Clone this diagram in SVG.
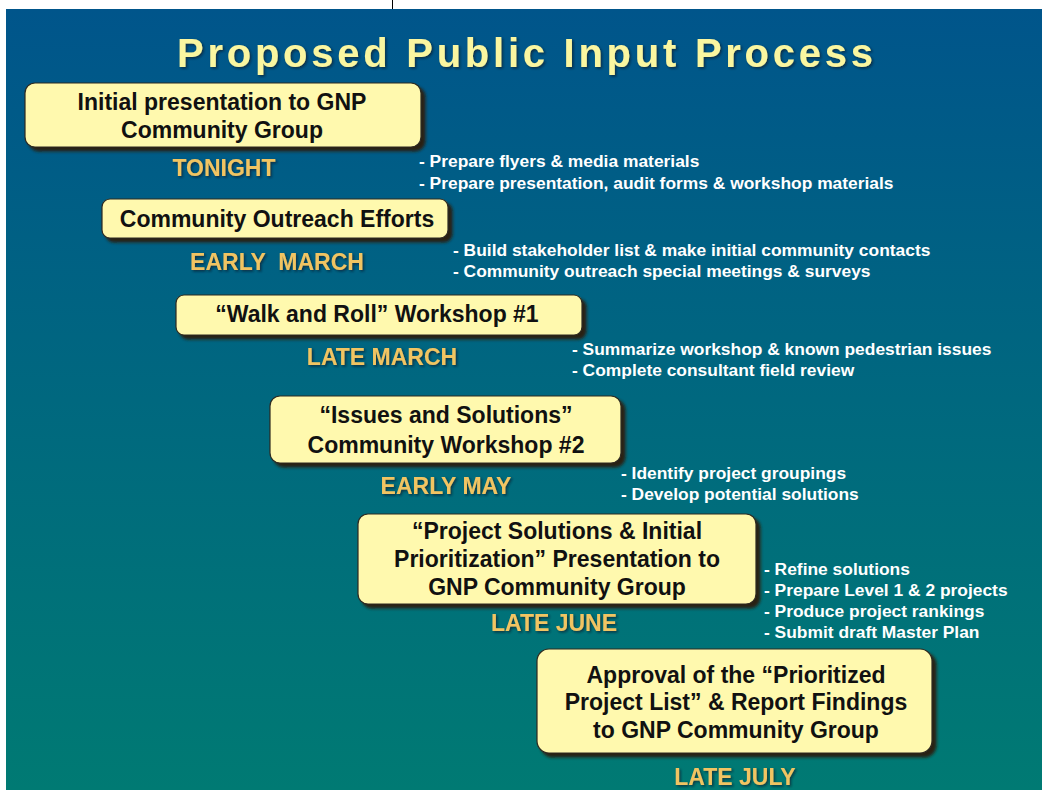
<svg xmlns="http://www.w3.org/2000/svg" width="1042" height="790" viewBox="0 0 1042 790">
<defs>
<linearGradient id="bg" x1="0" y1="0" x2="0" y2="1">
<stop offset="0" stop-color="#00558b"/>
<stop offset="0.5" stop-color="#00687f"/>
<stop offset="1" stop-color="#007a73"/>
</linearGradient>
<filter id="sh" x="-5%" y="-10%" width="115%" height="130%">
<feDropShadow dx="4" dy="4" stdDeviation="1.5" flood-color="#2a1a08" flood-opacity="0.95"/>
</filter>
<filter id="tsh" x="-5%" y="-20%" width="110%" height="140%">
<feDropShadow dx="1.5" dy="1.5" stdDeviation="0.8" flood-color="#0a1a2a" flood-opacity="0.7"/>
</filter>
</defs>
<style>
.box{fill:#fff9ae;stroke:#2e2a20;stroke-width:1.2;filter:url(#sh)}
.bt{font-family:"Liberation Sans",Arial,sans-serif;font-weight:bold;font-size:23px;fill:#111;text-anchor:middle}
.when{font-family:"Liberation Sans",Arial,sans-serif;font-weight:bold;font-size:23px;fill:#f1c462;text-anchor:middle;filter:url(#tsh)}
.bul{font-family:"Liberation Sans",Arial,sans-serif;font-weight:bold;font-size:17.4px;fill:#ffffff}
.title{font-family:"Liberation Sans",Arial,sans-serif;font-weight:bold;font-size:40px;fill:#faf6a0;filter:url(#tsh)}
</style>
<rect x="0" y="0" width="1042" height="790" fill="#ffffff"/>
<line x1="392.5" y1="0" x2="392.5" y2="9" stroke="#000" stroke-width="1"/>
<rect x="6" y="9" width="1036" height="781" fill="url(#bg)"/>
<text class="title" x="177" y="67" textLength="696" lengthAdjust="spacing">Proposed Public Input Process</text>
<g id="connectors"/>
<g id="n1">
<rect class="box" x="25" y="83" width="396" height="64" rx="10"/>
<text class="bt" x="222" y="110">Initial presentation to GNP</text>
<text class="bt" x="222" y="138">Community Group</text>
<text class="when" x="224" y="176">TONIGHT</text>
<text class="bul" x="419" y="167">- Prepare flyers &amp; media materials</text>
<text class="bul" x="419" y="189">- Prepare presentation, audit forms &amp; workshop materials</text>
</g>
<g id="n2">
<rect class="box" x="102" y="199" width="346" height="39" rx="8"/>
<text class="bt" x="277" y="227">Community Outreach Efforts</text>
<text class="when" x="277" y="270" xml:space="preserve">EARLY  MARCH</text>
<text class="bul" x="453" y="256">- Build stakeholder list &amp; make initial community contacts</text>
<text class="bul" x="453" y="277">- Community outreach special meetings &amp; surveys</text>
</g>
<g id="n3">
<rect class="box" x="176" y="295" width="406" height="40" rx="8"/>
<text class="bt" x="377" y="322">“Walk and Roll” Workshop #1</text>
<text class="when" x="382" y="365">LATE MARCH</text>
<text class="bul" x="572" y="355">- Summarize workshop &amp; known pedestrian issues</text>
<text class="bul" x="572" y="376">- Complete consultant field review</text>
</g>
<g id="n4">
<rect class="box" x="270" y="396" width="351" height="67" rx="10"/>
<text class="bt" x="446" y="423">“Issues and Solutions”</text>
<text class="bt" x="446" y="453">Community Workshop #2</text>
<text class="when" x="446" y="494">EARLY MAY</text>
<text class="bul" x="621" y="479">- Identify project groupings</text>
<text class="bul" x="621" y="500">- Develop potential solutions</text>
</g>
<g id="n5">
<rect class="box" x="358" y="514" width="398" height="90" rx="10"/>
<text class="bt" x="557" y="539">“Project Solutions &amp; Initial</text>
<text class="bt" x="557" y="567">Prioritization” Presentation to</text>
<text class="bt" x="557" y="595">GNP Community Group</text>
<text class="when" x="554" y="631">LATE JUNE</text>
<text class="bul" x="764" y="575">- Refine solutions</text>
<text class="bul" x="764" y="596">- Prepare Level 1 &amp; 2 projects</text>
<text class="bul" x="764" y="617">- Produce project rankings</text>
<text class="bul" x="764" y="638">- Submit draft Master Plan</text>
</g>
<g id="n6">
<rect class="box" x="537" y="649" width="395" height="104" rx="12"/>
<text class="bt" x="736" y="683">Approval of the “Prioritized</text>
<text class="bt" x="736" y="710">Project List” &amp; Report Findings</text>
<text class="bt" x="736" y="738">to GNP Community Group</text>
<text class="when" x="735" y="785">LATE JULY</text>
</g>
</svg>
